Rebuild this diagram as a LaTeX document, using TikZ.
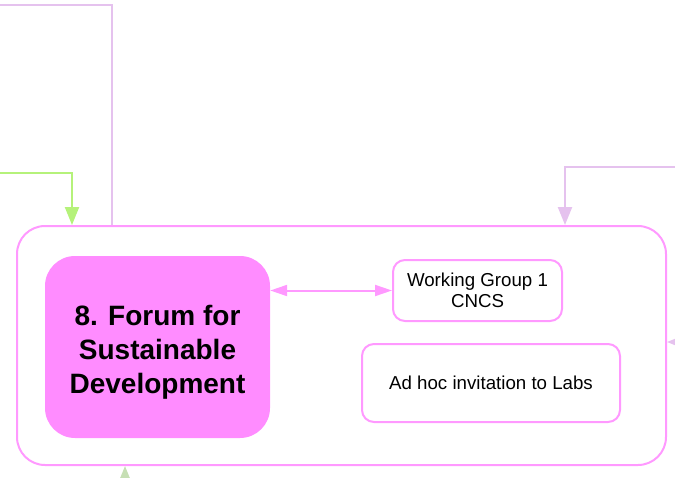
\documentclass[tikz,border=0pt]{standalone}
\usepackage{fontspec}
\setmainfont{Liberation Sans}
\usepackage{xcolor}
\usetikzlibrary{arrows.meta}
\definecolor{pinkline}{HTML}{FF99FF}
\definecolor{forumfill}{HTML}{FF8CFF}
\definecolor{lavline}{HTML}{E5C2EE}
\definecolor{greenline}{HTML}{B5F27A}
\definecolor{palegreen}{HTML}{C6DFB4}
\tikzset{box/.style={draw=pinkline, line width=2pt, rounded corners=12pt,
  align=center, inner sep=0pt, font=\fontsize{18.7}{21.5}\selectfont}}
\tikzset{feed/.style={line width=2.2pt, -{Triangle[length=18pt,width=14pt]}}}

\begin{document}
\begin{tikzpicture}[x=1pt, y=-1pt]
\useasboundingbox (0,0) rectangle (675,477);
\clip (0,0) rectangle (675,477);

\node[box, rounded corners=28pt, minimum width=649pt, minimum height=239pt] (group) at (341.5,345.5) {};
\node[fill=forumfill, rounded corners=30pt, minimum width=225pt, minimum height=182pt,
  align=center, inner sep=0pt, font=\fontsize{28}{34}\selectfont\bfseries] (forum) at (157.5,347)
  {\rule{0pt}{31pt}8. Forum for\\Sustainable\\Development};
\node[box, minimum width=169pt, minimum height=61pt] (wg) at (477.5,290.5) {Working Group 1\\CNCS};
\node[box, minimum width=258pt, minimum height=78pt] (adhoc) at (491,383) {Ad hoc invitation to Labs};

\draw[pinkline, line width=2pt, {Triangle[length=17pt,width=11pt]}-{Triangle[length=17pt,width=11pt]}]
  (forum.east |- wg.west) -- (wg.west);

\coordinate (inL) at (-5,5);
\coordinate (dropL) at (112,0);
\draw[lavline, line width=2.2pt] (inL) -| (group.north -| dropL);
\coordinate (inG) at (-5,173);
\coordinate (dropG) at (72,0);
\draw[feed, greenline] (inG) -| (group.north -| dropG);
\coordinate (inR) at (680,167);
\coordinate (dropR) at (565,0);
\draw[feed, lavline] (inR) -| (group.north -| dropR);
\coordinate (inE) at (700,342);
\draw[feed, lavline] (inE) -- (group.east |- inE);
\coordinate (inS) at (125,500);
\draw[feed, palegreen] (inS) -- (group.south -| inS);
\end{tikzpicture}
\end{document}
